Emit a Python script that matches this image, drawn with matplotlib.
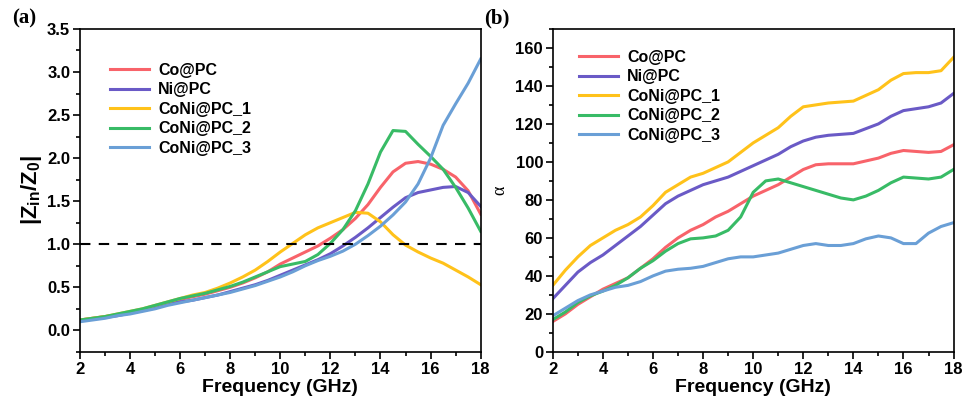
import numpy as np
import matplotlib
matplotlib.use("Agg")
import matplotlib.pyplot as plt
from matplotlib.ticker import MultipleLocator

plt.rcParams['font.family'] = ['Liberation Sans', 'DejaVu Sans']
plt.rcParams['font.weight'] = 'bold'
plt.rcParams['mathtext.fontset'] = 'custom'
plt.rcParams['mathtext.rm'] = 'Liberation Sans:bold'
plt.rcParams['mathtext.it'] = 'Liberation Sans:bold'
plt.rcParams['mathtext.bf'] = 'Liberation Sans:bold'

# ----------------------------
# data
# ----------------------------
freq = np.arange(2, 18.01, 0.5)

names = ["Co@PC", "Ni@PC", "CoNi@PC_1", "CoNi@PC_2", "CoNi@PC_3"]
colors = ["#f8636a", "#6a5ac6", "#ffc21a", "#38bb66", "#6a9fd6"]

# (a) |Zin/Z0|
z_co = [0.12, 0.14, 0.16, 0.18, 0.21, 0.24, 0.28, 0.32, 0.36, 0.39, 0.42, 0.46, 0.50,
        0.55, 0.61, 0.68, 0.77, 0.84, 0.91, 0.98, 1.07, 1.17, 1.30, 1.46, 1.66, 1.84,
        1.94, 1.96, 1.93, 1.87, 1.78, 1.62, 1.35]
z_ni = [0.11, 0.13, 0.15, 0.17, 0.20, 0.23, 0.26, 0.30, 0.33, 0.35, 0.38, 0.41, 0.45,
        0.49, 0.53, 0.58, 0.64, 0.70, 0.76, 0.82, 0.89, 0.98, 1.08, 1.19, 1.31, 1.43,
        1.54, 1.60, 1.63, 1.66, 1.67, 1.60, 1.44]
z_1 = [0.12, 0.14, 0.16, 0.19, 0.22, 0.25, 0.29, 0.33, 0.37, 0.41, 0.44, 0.49, 0.55,
       0.62, 0.70, 0.80, 0.91, 1.01, 1.11, 1.19, 1.25, 1.31, 1.37, 1.36, 1.26, 1.11,
       0.99, 0.91, 0.84, 0.78, 0.70, 0.62, 0.53]
z_2 = [0.12, 0.14, 0.16, 0.19, 0.22, 0.25, 0.29, 0.33, 0.37, 0.40, 0.43, 0.47, 0.51,
       0.56, 0.62, 0.68, 0.74, 0.77, 0.80, 0.88, 1.01, 1.17, 1.39, 1.70, 2.07, 2.32,
       2.31, 2.16, 2.02, 1.87, 1.66, 1.42, 1.15]
z_3 = [0.10, 0.12, 0.14, 0.17, 0.19, 0.22, 0.25, 0.29, 0.32, 0.35, 0.38, 0.41, 0.44,
       0.48, 0.52, 0.57, 0.62, 0.68, 0.75, 0.81, 0.86, 0.92, 1.00, 1.10, 1.21, 1.34,
       1.49, 1.70, 2.00, 2.38, 2.63, 2.87, 3.15]

# (b) attenuation constant
a_co = [16, 20, 25, 29, 33, 36, 39, 44, 49, 55, 60, 64, 67, 71, 74, 78, 82, 85, 88,
        92, 96, 98.5, 99, 99, 99, 100.5, 102, 104.5, 106, 105.5, 105, 105.5, 109]
a_ni = [28, 35, 42, 47, 51, 56, 61, 66, 72, 78, 82, 85, 88, 90, 92, 95, 98, 101, 104,
        108, 111, 113, 114, 114.5, 115, 117.5, 120, 124, 127, 128, 129, 131, 136]
a_1 = [35, 43, 50, 56, 60, 64, 67, 71, 77, 84, 88, 92, 94, 97, 100, 105, 110, 114, 118,
       124, 129, 130, 131, 131.5, 132, 135, 138, 143, 146.5, 147, 147, 148, 155]
a_2 = [17, 21, 26, 29.5, 32, 35, 39, 44, 48, 53, 57, 59.5, 60, 61, 64, 71, 84, 90, 91,
       89, 87, 85, 83, 81, 80, 82, 85, 89, 92, 91.5, 91, 92, 96]
a_3 = [19, 23, 27, 30, 32, 34, 35, 37, 40, 42.5, 43.5, 44, 45, 47, 49, 50, 50, 51, 52,
       54, 56, 57, 56, 56, 57, 59.5, 61, 60, 57, 57, 62.5, 66, 68]

z_all = [z_co, z_ni, z_1, z_2, z_3]
a_all = [a_co, a_ni, a_1, a_2, a_3]

fig = plt.figure(figsize=(9.75, 4.13), dpi=100)
ax1 = fig.add_axes([0.082, 0.148, 0.411, 0.782])
ax2 = fig.add_axes([0.567, 0.148, 0.411, 0.782])


def style(ax):
    for s in ax.spines.values():
        s.set_linewidth(1.2)
    ax.tick_params(which='both', direction='out', width=1.2, labelsize=12, pad=2)
    ax.tick_params(which='major', length=5)
    ax.tick_params(which='minor', length=3)
    ax.set_xlim(2, 18)
    ax.xaxis.set_major_locator(MultipleLocator(2))
    ax.xaxis.set_minor_locator(MultipleLocator(1))
    ax.set_xlabel("Frequency (GHz)", fontsize=14, fontweight='bold', labelpad=2)


# ----------------------------
# (a)
# ----------------------------
for y, n, c in zip(z_all, names, colors):
    ax1.plot(freq, y, color=c, lw=2.2, label=n)
ax1.axhline(1.0, color='black', lw=1.5, ls=(0, (5, 4)))
ax1.set_ylim(-0.25, 3.5)
ax1.yaxis.set_major_locator(MultipleLocator(0.5))
ax1.yaxis.set_minor_locator(MultipleLocator(0.25))
ax1.set_ylabel(r'$|Z_{in}/Z_0|$', fontsize=16, labelpad=2)
style(ax1)
ax1.legend(loc='upper left', bbox_to_anchor=(0.06, 0.915), frameon=False, fontsize=11.5,
           handlelength=2.4, handletextpad=0.6, labelspacing=0.28, borderaxespad=0)

# ----------------------------
# (b)
# ----------------------------
for y, n, c in zip(a_all, names, colors):
    ax2.plot(freq, y, color=c, lw=2.2, label=n)
ax2.set_ylim(0, 170)
ax2.yaxis.set_major_locator(MultipleLocator(20))
ax2.yaxis.set_minor_locator(MultipleLocator(10))
ax2.set_ylabel('α', fontsize=13, fontweight='normal', family='Liberation Serif', labelpad=5)
style(ax2)
ax2.legend(loc='upper left', bbox_to_anchor=(0.05, 0.955), frameon=False, fontsize=11.5,
           handlelength=2.4, handletextpad=0.6, labelspacing=0.28, borderaxespad=0)

fig.text(0.012, 0.955, "(a)", family='Liberation Serif', fontsize=15, fontweight='bold',
         va='center')
fig.text(0.497, 0.955, "(b)", family='Liberation Serif', fontsize=15, fontweight='bold',
         va='center')

fig.savefig("out.png", dpi=100)
